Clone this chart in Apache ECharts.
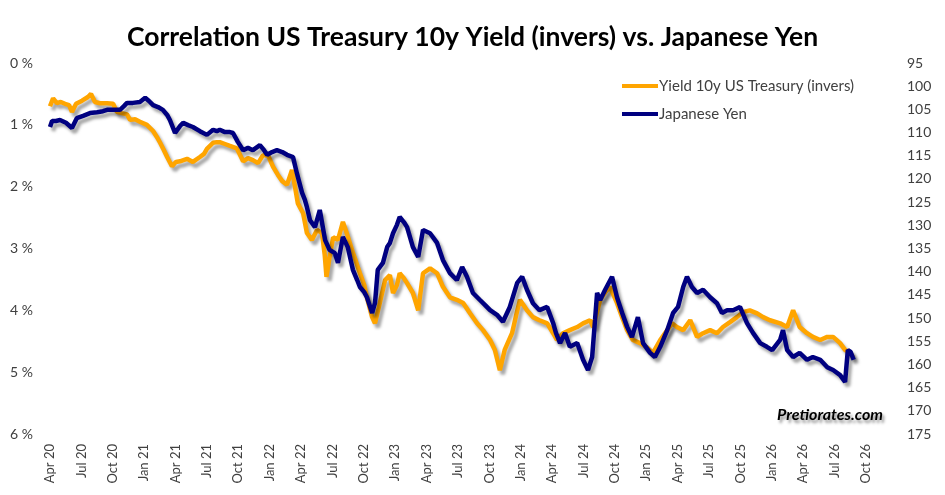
<!DOCTYPE html>
<html>
<head>
<meta charset="utf-8">
<script src="https://cdn.jsdelivr.net/npm/echarts@6/dist/echarts.min.js"></script>
<style>
  html, body { margin: 0; padding: 0; background: #fff; }
  #chart { width: 945px; height: 495px; }
</style>
</head>
<body>
<div id="chart"></div>
<script>
// x tick labels, one every quarter starting Apr 2020
var tickLabels = ['Apr 20', 'Jul 20', 'Oct 20', 'Jan 21', 'Apr 21', 'Jul 21', 'Oct 21', 'Jan 22', 'Apr 22',
    'Jul 22', 'Oct 22', 'Jan 23', 'Apr 23', 'Jul 23', 'Oct 23', 'Jan 24', 'Apr 24', 'Jul 24', 'Oct 24',
    'Jan 25', 'Apr 25', 'Jul 25', 'Oct 25', 'Jan 26', 'Apr 26', 'Jul 26', 'Oct 26'];

// US Treasury 10y yield, % (plotted inverted)
var yieldDates = [
    '2020-04-01', '2020-04-10', '2020-04-21', '2020-05-02', '2020-05-14', '2020-05-26', '2020-06-04', '2020-06-16', '2020-07-03', '2020-07-20',
    '2020-07-29', '2020-08-10', '2020-08-25', '2020-09-15', '2020-10-02', '2020-10-13', '2020-10-27', '2020-11-12', '2020-11-21', '2020-12-05',
    '2020-12-19', '2021-01-09', '2021-01-27', '2021-02-08', '2021-02-17', '2021-02-28', '2021-03-07', '2021-03-21', '2021-04-02', '2021-04-14',
    '2021-05-04', '2021-05-21', '2021-06-11', '2021-06-23', '2021-07-01', '2021-07-19', '2021-07-30', '2021-08-08', '2021-08-23', '2021-09-07',
    '2021-09-27', '2021-10-15', '2021-10-29', '2021-11-13', '2021-11-28', '2021-12-12', '2021-12-27', '2022-01-11', '2022-01-25', '2022-02-07',
    '2022-02-21', '2022-03-05', '2022-03-14', '2022-03-22', '2022-04-07', '2022-04-18', '2022-05-02', '2022-05-17', '2022-06-01', '2022-06-09',
    '2022-06-14', '2022-06-23', '2022-07-03', '2022-07-17', '2022-08-01', '2022-08-12', '2022-08-30', '2022-09-09', '2022-09-20', '2022-10-02',
    '2022-10-10', '2022-10-25', '2022-11-03', '2022-11-17', '2022-12-02', '2022-12-16', '2022-12-25', '2023-01-06', '2023-01-14', '2023-01-26',
    '2023-02-05', '2023-02-22', '2023-03-07', '2023-03-21', '2023-04-11', '2023-05-01', '2023-05-18', '2023-06-08', '2023-06-28', '2023-07-16',
    '2023-08-06', '2023-08-26', '2023-09-13', '2023-10-03', '2023-10-17', '2023-11-01', '2023-11-15', '2023-12-06', '2023-12-18', '2023-12-29',
    '2024-01-19', '2024-02-06', '2024-02-25', '2024-03-17', '2024-04-04', '2024-04-15', '2024-05-02', '2024-05-22', '2024-06-13', '2024-06-30',
    '2024-07-20', '2024-07-29', '2024-08-19', '2024-09-03', '2024-09-17', '2024-10-07', '2024-10-22', '2024-11-06', '2024-11-23', '2024-12-13',
    '2025-01-03', '2025-01-20', '2025-02-11', '2025-03-01', '2025-03-15', '2025-03-29', '2025-04-17', '2025-05-07', '2025-05-27', '2025-06-14',
    '2025-07-04', '2025-07-24', '2025-08-11', '2025-09-01', '2025-09-21', '2025-10-08', '2025-10-28', '2025-11-19', '2025-12-06', '2025-12-26',
    '2026-01-25', '2026-02-15', '2026-03-02', '2026-03-21', '2026-04-12', '2026-04-29', '2026-05-20', '2026-06-10', '2026-06-27', '2026-07-17',
    '2026-08-01', '2026-08-15', '2026-08-24'
];
var yieldValues = [
    0.70, 0.57, 0.65, 0.63, 0.66, 0.68, 0.79, 0.66, 0.61, 0.55,
    0.50, 0.63, 0.65, 0.65, 0.66, 0.79, 0.81, 0.83, 0.92, 0.91,
    0.95, 1.00, 1.10, 1.20, 1.29, 1.41, 1.52, 1.67, 1.60, 1.59,
    1.55, 1.60, 1.52, 1.47, 1.39, 1.29, 1.28, 1.28, 1.31, 1.34,
    1.38, 1.59, 1.54, 1.57, 1.62, 1.49, 1.50, 1.68, 1.81, 1.91,
    1.97, 1.73, 2.01, 2.27, 2.43, 2.75, 2.86, 2.70, 2.75, 3.11,
    3.46, 3.14, 2.82, 2.86, 2.57, 2.75, 3.07, 3.22, 3.40, 3.59,
    3.79, 4.11, 4.21, 3.88, 3.51, 3.43, 3.72, 3.59, 3.40, 3.48,
    3.56, 3.72, 4.00, 3.40, 3.32, 3.40, 3.62, 3.79, 3.83, 3.88,
    4.05, 4.21, 4.32, 4.48, 4.64, 4.97, 4.64, 4.37, 4.08, 3.83,
    4.00, 4.11, 4.16, 4.21, 4.37, 4.48, 4.37, 4.32, 4.27, 4.21,
    4.16, 4.27, 3.83, 3.71, 3.62, 3.88, 4.11, 4.32, 4.48, 4.53,
    4.60, 4.69, 4.48, 4.32, 4.21, 4.27, 4.32, 4.16, 4.43, 4.37,
    4.32, 4.37, 4.27, 4.19, 4.11, 4.03, 4.00, 4.05, 4.11, 4.16,
    4.21, 4.27, 4.00, 4.27, 4.37, 4.43, 4.48, 4.43, 4.43, 4.53,
    4.64, 4.68, 4.76
];

// USD/JPY (plotted inverted)
var yenDates = [
    '2020-04-01', '2020-04-07', '2020-04-18', '2020-04-30', '2020-05-17', '2020-06-04', '2020-06-18', '2020-07-06', '2020-07-26', '2020-08-16',
    '2020-09-03', '2020-09-15', '2020-10-02', '2020-10-22', '2020-11-03', '2020-11-12', '2020-11-29', '2020-12-19', '2021-01-04', '2021-01-15',
    '2021-01-27', '2021-02-11', '2021-02-25', '2021-03-07', '2021-03-15', '2021-03-30', '2021-04-14', '2021-04-23', '2021-05-07', '2021-05-21',
    '2021-06-11', '2021-07-01', '2021-07-19', '2021-07-30', '2021-08-08', '2021-08-23', '2021-09-07', '2021-09-16', '2021-09-30', '2021-10-15',
    '2021-10-29', '2021-11-13', '2021-12-03', '2021-12-15', '2021-12-24', '2022-01-08', '2022-01-22', '2022-02-07', '2022-02-21', '2022-03-08',
    '2022-03-19', '2022-04-04', '2022-04-12', '2022-04-18', '2022-04-27', '2022-05-11', '2022-05-25', '2022-06-10', '2022-06-23', '2022-07-08',
    '2022-07-17', '2022-08-01', '2022-08-15', '2022-08-30', '2022-09-12', '2022-09-20', '2022-10-02', '2022-10-10', '2022-10-25', '2022-11-03',
    '2022-11-11', '2022-11-26', '2022-12-08', '2022-12-16', '2022-12-25', '2023-01-06', '2023-01-14', '2023-01-26', '2023-02-05', '2023-02-22',
    '2023-03-07', '2023-03-21', '2023-04-11', '2023-05-01', '2023-05-18', '2023-06-08', '2023-06-28', '2023-07-13', '2023-07-27', '2023-08-14',
    '2023-09-04', '2023-09-19', '2023-10-03', '2023-10-23', '2023-11-10', '2023-11-30', '2023-12-21', '2024-01-05', '2024-01-19', '2024-02-06',
    '2024-02-25', '2024-03-17', '2024-04-04', '2024-04-12', '2024-04-24', '2024-05-08', '2024-05-22', '2024-06-13', '2024-06-30', '2024-07-14',
    '2024-07-26', '2024-08-04', '2024-08-10', '2024-08-19', '2024-09-03', '2024-09-23', '2024-10-07', '2024-10-22', '2024-11-06', '2024-11-20',
    '2024-12-07', '2024-12-22', '2025-01-12', '2025-01-26', '2025-02-11', '2025-03-01', '2025-03-18', '2025-04-02', '2025-04-17', '2025-04-28',
    '2025-05-12', '2025-05-27', '2025-06-14', '2025-07-04', '2025-07-24', '2025-08-08', '2025-08-23', '2025-09-10', '2025-09-30', '2025-10-20',
    '2025-11-07', '2025-11-28', '2025-12-17', '2026-01-02', '2026-01-25', '2026-02-03', '2026-02-15', '2026-03-02', '2026-03-21', '2026-04-12',
    '2026-04-29', '2026-05-20', '2026-06-10', '2026-06-27', '2026-07-17', '2026-08-01', '2026-08-06', '2026-08-09', '2026-08-17', '2026-08-26'
];
var yenValues = [
    108.8, 107.5, 107.5, 107.3, 107.9, 109.0, 106.9, 106.4, 105.8, 105.6,
    105.4, 105.1, 105.1, 105.1, 104.3, 103.6, 103.6, 103.4, 102.5, 103.2,
    104.1, 104.5, 105.1, 106.2, 107.3, 110.1, 108.6, 107.9, 108.4, 108.8,
    109.7, 110.5, 109.4, 109.7, 109.4, 109.9, 109.9, 110.1, 112.0, 113.8,
    113.3, 113.8, 112.7, 113.8, 114.8, 114.2, 113.8, 114.2, 114.8, 115.3,
    118.7, 123.0, 124.5, 126.1, 128.9, 130.4, 126.7, 133.2, 135.3, 136.0,
    138.1, 132.5, 134.7, 139.6, 141.8, 143.3, 144.4, 145.5, 148.9, 146.8,
    139.6, 138.1, 134.7, 133.8, 131.7, 129.9, 128.2, 129.3, 130.4, 134.7,
    136.8, 131.0, 131.7, 133.8, 137.5, 140.3, 141.8, 139.0, 141.1, 144.6,
    146.1, 147.2, 148.3, 149.3, 150.8, 147.6, 142.4, 141.1, 143.9, 146.8,
    148.3, 147.6, 151.1, 153.2, 155.4, 153.2, 156.2, 155.4, 159.0, 161.2,
    158.4, 150.4, 144.6, 146.1, 143.9, 141.1, 145.5, 148.9, 151.9, 154.1,
    149.8, 155.4, 157.5, 158.4, 156.2, 152.6, 148.9, 147.6, 143.3, 141.1,
    143.3, 144.6, 143.9, 145.5, 146.8, 148.9, 148.3, 148.3, 147.6, 151.1,
    153.2, 155.4, 156.2, 156.9, 154.7, 152.6, 156.9, 158.4, 157.5, 159.0,
    158.4, 159.0, 160.6, 161.2, 162.3, 163.8, 164.0, 156.9, 157.3, 159.0
];

// months since Apr 2020 (x axis runs in months)
function monthIndex(s) {
    var p = s.split('-').map(Number);
    return (p[0] - 2020) * 12 + (p[1] - 4) + (p[2] - 1) / 30.4;
}

var chart = echarts.init(document.getElementById('chart'));
var font = 'Lato, "Open Sans", sans-serif';
var lineShadow = {
    shadowColor: 'rgba(0,0,0,0.35)',
    shadowBlur: 3,
    shadowOffsetX: 3,
    shadowOffsetY: 4
};

var option = {
    backgroundColor: '#ffffff',
    animation: false,
    title: {
        text: 'Correlation US Treasury 10y Yield (invers) vs. Japanese Yen',
        left: 'center',
        top: 19,
        textStyle: {
            fontFamily: font,
            fontWeight: 'bold',
            fontSize: 26.5,
            color: '#000000'
        }
    },
    legend: {
        orient: 'vertical',
        left: 617,
        top: 73,
        icon: 'rect',
        itemWidth: 36,
        itemHeight: 4,
        itemGap: 12,
        textStyle: {
            fontFamily: font,
            fontSize: 15,
            lineHeight: 16,
            color: '#404040',
            padding: [0, 0, 0, -4]
        },
        data: ['Yield 10y US Treasury (invers)', 'Japanese Yen']
    },
    grid: {
        left: 50,
        right: 79,
        top: 63,
        bottom: 61
    },
    xAxis: {
        type: 'value',
        min: 0,
        max: 78,
        interval: 3,
        axisLine: { show: false },
        axisTick: { show: false },
        splitLine: { show: false },
        axisLabel: {
            rotate: 90,
            margin: 10,
            fontFamily: font,
            fontSize: 13,
            color: '#404040',
            showMinLabel: true,
            showMaxLabel: true,
            formatter: function (v) {
                return tickLabels[Math.round(v / 3)] || '';
            }
        }
    },
    yAxis: [
        {
            type: 'value',
            inverse: true,
            min: 0,
            max: 6,
            interval: 1,
            axisLine: { show: false },
            axisTick: { show: false },
            splitLine: { show: false },
            axisLabel: {
                margin: 17,
                fontFamily: font,
                fontSize: 14,
                color: '#404040',
                formatter: '{value} %'
            }
        },
        {
            type: 'value',
            inverse: true,
            min: 95,
            max: 175,
            interval: 5,
            position: 'right',
            axisLine: { show: false },
            axisTick: { show: false },
            splitLine: { show: false },
            axisLabel: {
                margin: 41,
                fontFamily: font,
                fontSize: 14,
                color: '#404040'
            }
        }
    ],
    series: [
        {
            name: 'Yield 10y US Treasury (invers)',
            type: 'line',
            yAxisIndex: 0,
            symbol: 'none',
            itemStyle: { color: '#FFA500' },
            lineStyle: Object.assign({ color: '#FFA500', width: 4.5 }, lineShadow),
            data: yieldDates.map(function (d, i) { return [monthIndex(d), yieldValues[i]]; })
        },
        {
            name: 'Japanese Yen',
            type: 'line',
            yAxisIndex: 1,
            symbol: 'none',
            itemStyle: { color: '#000080' },
            lineStyle: Object.assign({ color: '#000080', width: 4.5 }, lineShadow),
            data: yenDates.map(function (d, i) { return [monthIndex(d), yenValues[i]]; })
        }
    ],
    graphic: [
        {
            type: 'text',
            right: 62,
            top: 407,
            style: {
                text: 'Pretiorates.com',
                font: 'italic bold 16px ' + font,
                fill: '#000000',
                textShadowColor: 'rgba(0,0,0,0.45)',
                textShadowBlur: 3,
                textShadowOffsetX: 2,
                textShadowOffsetY: 3
            }
        }
    ]
};

chart.setOption(option);
</script>
</body>
</html>
